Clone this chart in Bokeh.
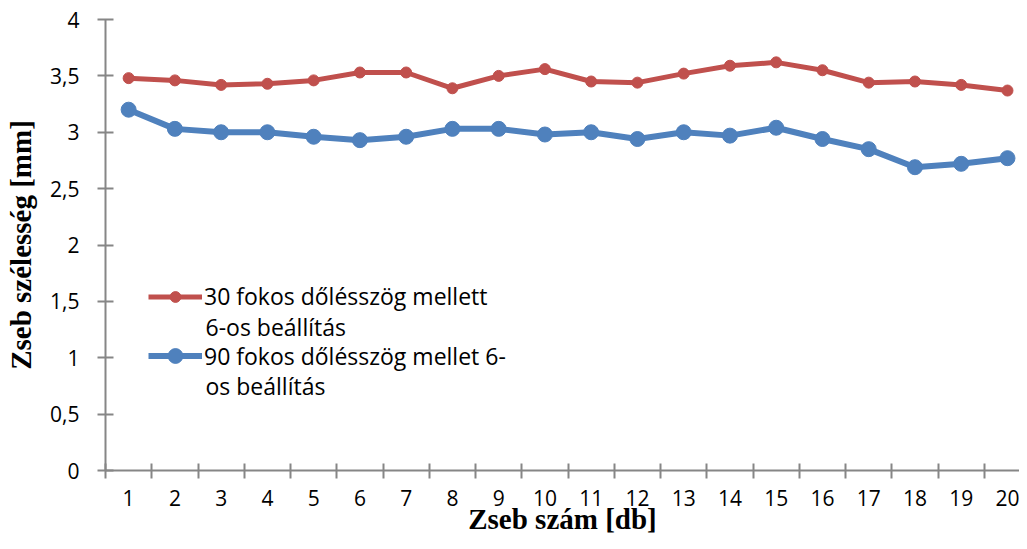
from bokeh.plotting import figure
from bokeh.models import (Range1d, FixedTicker, CustomJSTickFormatter, Legend, LegendItem,
                          ColumnDataSource, Label)
from bokeh.embed import file_html
from bokeh.resources import INLINE

# ---- data ----
pockets = list(range(1, 21))
series_30_lines = ["30 fokos dőlésszög mellett", "6-os beállítás"]
series_90_lines = ["90 fokos dőlésszög mellet 6-", "os beállítás"]
series_30 = [3.48, 3.46, 3.42, 3.43, 3.46, 3.53, 3.53, 3.39, 3.50, 3.56,
             3.45, 3.44, 3.52, 3.59, 3.62, 3.55, 3.44, 3.45, 3.42, 3.37]
series_90 = [3.20, 3.03, 3.00, 3.00, 2.96, 2.93, 2.96, 3.03, 3.03, 2.98,
             3.00, 2.94, 3.00, 2.97, 3.04, 2.94, 2.85, 2.69, 2.72, 2.77]
y_ticks = [0, 0.5, 1, 1.5, 2, 2.5, 3, 3.5, 4]
x_title = "Zseb szám [db]"
y_title = "Zseb szélesség [mm]"

RED = "#C0504D"
BLUE = "#4F81BD"
AXIS = "#868686"
TICK_FONT = "Open Sans"
TITLE_FONT = "Liberation Serif"

p = figure(width=1019, height=541, output_backend="svg", toolbar_location=None,
           x_range=Range1d(0.5, 20.26), y_range=Range1d(0, 4),
           min_border_left=105, min_border_right=0, min_border_top=19, min_border_bottom=71)
p.outline_line_color = None
p.xgrid.visible = False
p.ygrid.visible = False
p.background_fill_color = "white"
p.border_fill_color = "white"

src = ColumnDataSource(dict(x=pockets, a=series_30, b=series_90))

r30l = p.line("x", "a", source=src, color=RED, line_width=5)
r30m = p.scatter("x", "a", source=src, color=RED, size=11)
r90l = p.line("x", "b", source=src, color=BLUE, line_width=6)
r90m = p.scatter("x", "b", source=src, color=BLUE, size=15)

# x axis
xa = p.xaxis[0]
xa.ticker = FixedTicker(ticks=pockets, minor_ticks=[i + 0.5 for i in range(0, 21)])
xa.major_tick_line_color = None
xa.minor_tick_line_color = AXIS
xa.minor_tick_line_width = 2
xa.minor_tick_in = 7
xa.minor_tick_out = 8
xa.axis_line_color = AXIS
xa.axis_line_width = 2
xa.major_label_text_font = TICK_FONT
xa.major_label_text_font_size = "21px"
xa.major_label_text_color = "black"
xa.major_label_standoff = 11
xa.axis_label = x_title
xa.axis_label_text_font = TITLE_FONT
xa.axis_label_text_font_style = "bold"
xa.axis_label_text_font_size = "29px"
xa.axis_label_text_color = "black"
xa.axis_label_standoff = -6

# y axis
ya = p.yaxis[0]
ya.ticker = FixedTicker(ticks=y_ticks, minor_ticks=[])
ya.formatter = CustomJSTickFormatter(code="return tick.toString().replace('.', ',');")
ya.major_tick_line_color = AXIS
ya.major_tick_line_width = 2
ya.major_tick_in = 8
ya.major_tick_out = 8
ya.axis_line_color = AXIS
ya.axis_line_width = 2
ya.major_label_text_font = TICK_FONT
ya.major_label_text_font_size = "21px"
ya.major_label_text_color = "black"
ya.major_label_standoff = 18
ya.axis_label = y_title
ya.axis_label_text_font = TITLE_FONT
ya.axis_label_text_font_style = "bold"
ya.axis_label_text_font_size = "29px"
ya.axis_label_text_color = "black"
ya.axis_label_standoff = 10

common = dict(padding=0, margin=0, spacing=0, glyph_width=54, label_standoff=2,
              label_text_font=TICK_FONT, label_text_font_size="23px",
              label_text_color="black", label_text_baseline="middle",
              border_line_color=None, background_fill_alpha=0)
leg30 = Legend(items=[LegendItem(label=series_30_lines[0], renderers=[r30l, r30m])],
               location=(43, 158), glyph_height=27, label_height=31, **common)
leg90 = Legend(items=[LegendItem(label=series_90_lines[0], renderers=[r90l, r90m])],
               location=(43, 96), glyph_height=37, label_height=31, **common)
p.add_layout(leg30, "center")
p.add_layout(leg90, "center")

for txt, yy in [(series_30_lines[1], 144), (series_90_lines[1], 85)]:
    p.add_layout(Label(x=100, y=yy, x_units="screen", y_units="screen", text=txt,
                       text_align="left", text_baseline="middle",
                       text_font=TICK_FONT, text_font_size="23px", text_color="black"))

open("out.html", "w").write(file_html(p, INLINE))
